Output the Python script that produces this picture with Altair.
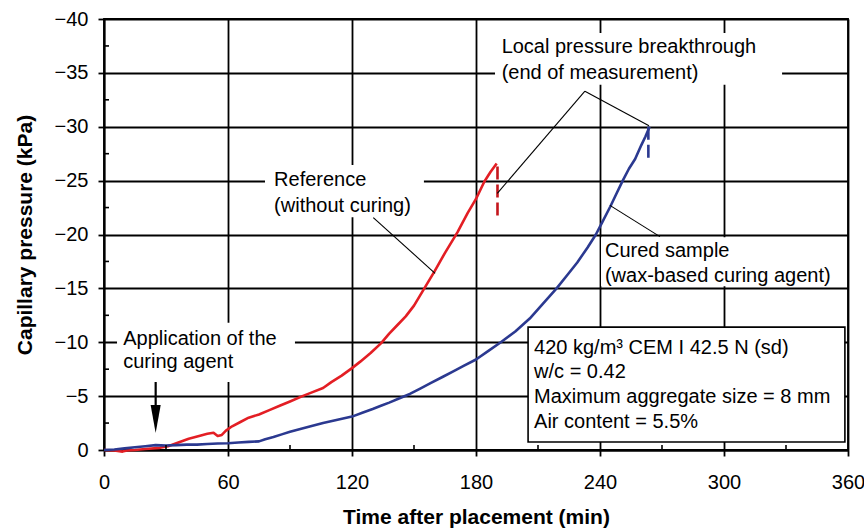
import altair as alt
import pandas as pd

# ---------------- data ----------------
red_t = [0, 5, 9, 11, 15, 20, 27, 31, 36, 41, 46, 50, 53, 55, 57, 59, 62, 66, 70, 75, 80, 85, 90, 96,
         100, 106, 110, 115, 120, 124, 129, 134, 138, 142, 146, 150, 155, 160, 165, 171, 176, 180,
         184, 187, 190]
red_p = [0, 0.05, 0.15, 0.05, 0, -0.1, -0.2, -0.35, -0.7, -1.05, -1.3, -1.5, -1.6, -1.3, -1.4, -1.8,
         -2.2, -2.6, -3.0, -3.3, -3.7, -4.1, -4.5, -5.0, -5.3, -5.75, -6.3, -6.9, -7.6, -8.2, -9.0,
         -9.9, -10.8, -11.6, -12.4, -13.4, -15.0, -16.6, -18.3, -20.2, -22.0, -23.3, -24.9, -25.8,
         -26.6]

blue_t = [0, 5, 10, 15, 20, 25, 30, 35, 40, 45, 50, 55, 60, 65, 70, 75, 78, 82, 86, 90, 95, 100,
          106, 113, 120, 125, 130, 134, 138, 143, 148, 153, 158, 164, 169, 174, 180, 186, 192, 199,
          206, 212, 219, 224, 229, 234, 238, 241, 245, 248, 251, 254, 257, 260, 262, 264]
blue_p = [0, -0.05, -0.15, -0.25, -0.35, -0.45, -0.42, -0.45, -0.5, -0.5, -0.55, -0.6, -0.62, -0.7,
          -0.75, -0.8, -1.0, -1.2, -1.45, -1.7, -1.95, -2.2, -2.5, -2.8, -3.1, -3.45, -3.8, -4.1,
          -4.4, -4.8, -5.2, -5.7, -6.2, -6.8, -7.3, -7.8, -8.4, -9.2, -10.0, -11.0, -12.2, -13.5,
          -15.0, -16.2, -17.4, -18.8, -20.0, -21.1, -22.6, -23.8, -25.0, -26.1, -27.0, -28.3,
          -29.1, -30.0]

series_names = ["Reference", "Cured"]
series_colors = ["#e31e24", "#2b3990"]

# end-of-measurement dashed markers
end_t = [190.4, 263.4]
end_p1 = [-26.3, -30.0]
end_p2 = [-21.5, -26.7]
end_colors = ["#c4161c", "#2b3990"]

x_major = [0, 60, 120, 180, 240, 300, 360]
x_minor = [30, 90, 150, 210, 270, 330]
y_major = [0, -5, -10, -15, -20, -25, -30, -35, -40]
y_minor = [-2.5, -7.5, -12.5, -17.5, -22.5, -27.5, -32.5, -37.5]

# annotation texts (left x, baseline y in data units)
note_text = ["Local pressure breakthrough", "(end of measurement)",
             "Reference", "(without curing)",
             "Cured sample", "(wax-based curing agent)",
             "Application of the", "curing agent",
             "420 kg/m³ CEM I 42.5 N (sd)", "w/c = 0.42",
             "Maximum aggregate size = 8 mm", "Air content = 5.5%"]
note_x = [192.4, 192.4, 82.3, 82.3, 242.4, 242.4, 9.3, 9.3, 208.1, 208.1, 208.1, 208.1]
note_y = [-36.82, -34.4, -24.5, -22.12, -17.91, -15.62, -9.74, -7.58, -8.91, -6.65, -4.39, -2.01]

# white label backgrounds
box_x1 = [189.2, 77.9, 240.5, 6.3]
box_x2 = [328.1, 154.8, 359.5, 92.4]
box_y1 = [-38.7, -26.45, -19.75, -11.8]
box_y2 = [-33.9, -21.6, -15.2, -6.3]

# framed info box
info_x1, info_x2, info_y1, info_y2 = [205.2], [358.5], [-11.4], [-0.74]

# leader lines
lead_x1 = [130.3, 232.7, 232.7, 244.8]
lead_y1 = [-21.56, -33.3, -33.3, -22.7]
lead_x2 = [160.2, 263.7, 190.3, 269.0]
lead_y2 = [-16.4, -30.1, -23.82, -19.8]

# arrow (application of curing agent)
arrow_t = [25.0]
arrow_p1 = [-6.31]
arrow_p2 = [-3.7]
arrow_tip = [-1.58]

# ---------------- chart ----------------
FONT = "Liberation Sans"
W, H = 744, 431

xs = alt.Scale(domain=[0, 360], nice=False, zero=False)
ys = alt.Scale(domain=[-40, 0], reverse=True, nice=False, zero=False)

AX = alt.Axis(values=x_major, title="Time after placement (min)",
              grid=True, gridColor="black", gridWidth=1.8, gridOpacity=1,
              domainColor="black", domainWidth=1.8,
              tickColor="black", tickWidth=1.8, tickSize=6,
              labelFont=FONT, labelFontSize=20, labelColor="black",
              labelPadding=16, labelFlush=False,
              titleFont=FONT, titleFontSize=21, titleFontWeight="bold",
              titleColor="black", titlePadding=14)
AY = alt.Axis(values=y_major, title="Capillary pressure (kPa)",
              labelExpr="datum.value == 0 ? '0' : '\u2212' + format(-datum.value, 'd')",
              grid=True, gridColor="black", gridWidth=1.8, gridOpacity=1,
              domainColor="black", domainWidth=1.8,
              tickColor="black", tickWidth=1.8, tickSize=6,
              labelFont=FONT, labelFontSize=20, labelColor="black",
              labelPadding=10, labelFlush=False,
              titleFont=FONT, titleFontSize=21, titleFontWeight="bold",
              titleColor="black", titlePadding=19)


def X(f):
    return alt.X(f, scale=xs, axis=AX, title="Time after placement (min)")


def Y(f):
    return alt.Y(f, scale=ys, axis=AY, title="Capillary pressure (kPa)")


curves = pd.DataFrame({
    "t": red_t + blue_t,
    "p": red_p + blue_p,
    "s": [series_names[0]] * len(red_t) + [series_names[1]] * len(blue_t),
})

lines = alt.Chart(curves).mark_line(strokeWidth=2.6, strokeJoin="round").encode(
    x=X("t:Q"), y=Y("p:Q"),
    color=alt.Color("s:N", scale=alt.Scale(domain=series_names, range=series_colors), legend=None),
)

boxes = alt.Chart(pd.DataFrame({"x1": box_x1, "x2": box_x2, "y1": box_y1, "y2": box_y2})).mark_rect(
    fill="white"
).encode(x=X("x1:Q"), x2="x2:Q", y=Y("y1:Q"), y2="y2:Q")

info = alt.Chart(pd.DataFrame({"x1": info_x1, "x2": info_x2, "y1": info_y1, "y2": info_y2})).mark_rect(
    fill="white", stroke="black", strokeWidth=1.6
).encode(x=X("x1:Q"), x2="x2:Q", y=Y("y1:Q"), y2="y2:Q")

xminor = alt.Chart(pd.DataFrame({"t": x_minor})).mark_rule(color="black", strokeWidth=1.6).encode(
    x=X("t:Q"), y=alt.value(H - 5), y2=alt.value(H)
)
yminor = alt.Chart(pd.DataFrame({"p": y_minor})).mark_rule(color="black", strokeWidth=1.6).encode(
    y=Y("p:Q"), x=alt.value(0), x2=alt.value(5)
)

ends = alt.Chart(pd.DataFrame({"t": end_t, "p1": end_p1, "p2": end_p2, "c": end_colors})).mark_rule(
    strokeWidth=2.6, strokeDash=[13, 5]
).encode(
    x=X("t:Q"), y=Y("p1:Q"), y2="p2:Q",
    color=alt.Color("c:N", scale=None),
)

leaders = alt.Chart(pd.DataFrame({"x1": lead_x1, "y1": lead_y1, "x2": lead_x2, "y2": lead_y2})).mark_rule(
    color="black", strokeWidth=1.1
).encode(x=X("x1:Q"), x2="x2:Q", y=Y("y1:Q"), y2="y2:Q")

shaft = alt.Chart(pd.DataFrame({"t": arrow_t, "p1": arrow_p1, "p2": arrow_p2})).mark_rule(
    color="black", strokeWidth=2.2
).encode(x=X("t:Q"), y=Y("p1:Q"), y2="p2:Q")

head = alt.Chart(pd.DataFrame({"t": arrow_t, "p": arrow_tip})).mark_point(
    shape="M -0.18 -1 L 0.18 -1 L 0 0 Z", filled=True, size=3136, color="black", opacity=1
).encode(x=X("t:Q"), y=Y("p:Q"))

notes = alt.Chart(pd.DataFrame({"x": note_x, "y": note_y, "txt": note_text})).mark_text(
    align="left", baseline="alphabetic", font=FONT, fontSize=20, color="black"
).encode(x=X("x:Q"), y=Y("y:Q"), text="txt:N")

chart = alt.layer(
    lines, boxes, info, xminor, yminor, ends, leaders, shaft, head, notes
).resolve_scale(color="independent").properties(
    width=W, height=H,
    autosize="none",
    padding={"left": 104, "top": 19, "right": 16, "bottom": 79},
    background="white",
).configure_view(stroke="black", strokeWidth=1.8)

chart.save("out.html", embed_options={"renderer": "svg", "actions": False})
